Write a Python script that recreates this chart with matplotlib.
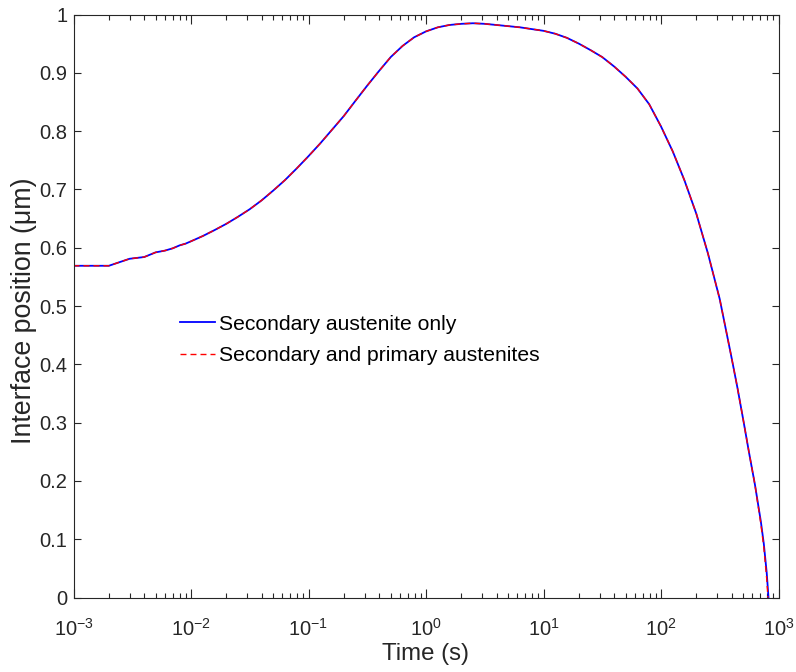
import matplotlib
matplotlib.use("Agg")
import matplotlib.pyplot as plt
from matplotlib.ticker import FixedLocator, FixedFormatter, LogLocator, NullFormatter

# Interface position (um) versus time (s); shared part of both runs
t_common = [1e-3, 2e-3, 3e-3, 4e-3, 5e-3, 6e-3, 7e-3, 8e-3, 9e-3,
            0.0100, 0.0126, 0.0158, 0.0200, 0.0251, 0.0316, 0.0398, 0.0501,
            0.0631, 0.0794, 0.100, 0.126, 0.158, 0.200, 0.251, 0.316, 0.398,
            0.501, 0.631, 0.794, 1.00, 1.26, 1.58, 2.00, 2.51, 3.16, 3.98,
            5.01, 6.31, 7.94, 10.0, 12.6, 15.8, 20.0, 25.1, 31.6, 39.8, 50.1,
            63.1, 79.4, 100.0, 126.0, 158.0, 200.0, 251.0, 316.0, 398.0, 447.0,
            501.0, 562.0, 631.0]
pos_common = [0.569, 0.569, 0.581, 0.584, 0.592, 0.595, 0.599, 0.604, 0.607,
              0.611, 0.620, 0.630, 0.641, 0.653, 0.666, 0.681, 0.698, 0.716,
              0.736, 0.757, 0.779, 0.802, 0.826, 0.852, 0.878, 0.903, 0.927,
              0.946, 0.961, 0.971, 0.978, 0.982, 0.984, 0.985, 0.984, 0.982,
              0.980, 0.978, 0.975, 0.972, 0.967, 0.960, 0.950, 0.939, 0.927,
              0.911, 0.893, 0.873, 0.846, 0.808, 0.765, 0.716, 0.658, 0.590,
              0.512, 0.412, 0.360, 0.305, 0.248, 0.193]

# Final dissolution stage of each run
t_tail_secondary = [708.0, 750.0, 794.0, 822.0]
pos_tail_secondary = [0.130, 0.092, 0.042, 0.0]
t_tail_both = [708.0, 750.0, 794.0, 813.0]
pos_tail_both = [0.126, 0.086, 0.032, 0.0]

x_exponents = [-3, -2, -1, 0, 1, 2, 3]
y_ticks = [0, 0.1, 0.2, 0.3, 0.4, 0.5, 0.6, 0.7, 0.8, 0.9, 1.0]
y_tick_labels = ["0", "0.1", "0.2", "0.3", "0.4", "0.5", "0.6", "0.7", "0.8", "0.9", "1"]

label_secondary = "Secondary austenite only"
label_both = "Secondary and primary austenites"

plt.rcParams["font.family"] = ["Liberation Sans", "DejaVu Sans"]
plt.rcParams["mathtext.fontset"] = "custom"
plt.rcParams["mathtext.rm"] = "Liberation Sans"
plt.rcParams["mathtext.default"] = "regular"

axis_grey = (0.15, 0.15, 0.15)

fig = plt.figure(figsize=(7.96, 6.72), dpi=100)
W, H = 796, 672
left, right, top, bottom = 73.5, 778.5, 14.5, 597.5
ax = fig.add_axes([left / W, 1 - bottom / H, (right - left) / W, (bottom - top) / H])

ax.plot(t_common + t_tail_secondary, pos_common + pos_tail_secondary,
        color=(0, 0, 1), lw=1.3, label=label_secondary)
ax.plot(t_common + t_tail_both, pos_common + pos_tail_both,
        color=(1, 0, 0), lw=1.0, linestyle=(0, (4.3, 2.9)), label=label_both)

ax.set_xscale("log")
ax.set_xlim(1e-3, 1e3)
ax.set_ylim(0, 1)

ax.xaxis.set_major_locator(FixedLocator([10.0 ** e for e in x_exponents]))
ax.xaxis.set_major_formatter(FixedFormatter(["$10^{%d}$" % e for e in x_exponents]))
ax.xaxis.set_minor_locator(LogLocator(base=10, subs=range(2, 10), numticks=20))
ax.xaxis.set_minor_formatter(NullFormatter())
ax.yaxis.set_major_locator(FixedLocator(y_ticks))
ax.yaxis.set_major_formatter(FixedFormatter(y_tick_labels))

ax.tick_params(axis="both", which="both", direction="in", top=True, right=True,
               colors=axis_grey, labelsize=14.5, width=0.8)
ax.tick_params(axis="x", which="major", length=6.3, pad=14.5)
ax.tick_params(axis="x", which="minor", length=3.4)
ax.tick_params(axis="y", which="major", length=5.0, pad=4.5)
for s in ax.spines.values():
    s.set_color(axis_grey)
    s.set_linewidth(0.8)

ax.set_xlabel("Time (s)", fontsize=17.3, color=axis_grey)
ax.xaxis.set_label_coords(0.5, -(643 - bottom) / (bottom - top))
ax.set_ylabel("Interface position (μm)", fontsize=19.3, color=axis_grey)
ax.yaxis.set_label_coords(-(left - 37) / (right - left), 0.492)

leg = ax.legend(loc="center left", bbox_to_anchor=(180 / W, 1 - 340 / H),
                bbox_transform=fig.transFigure, frameon=False, fontsize=15.25,
                handlelength=1.65, handletextpad=0.2, borderpad=0,
                borderaxespad=0, labelspacing=0.6)

fig.savefig("out.png", dpi=100)
